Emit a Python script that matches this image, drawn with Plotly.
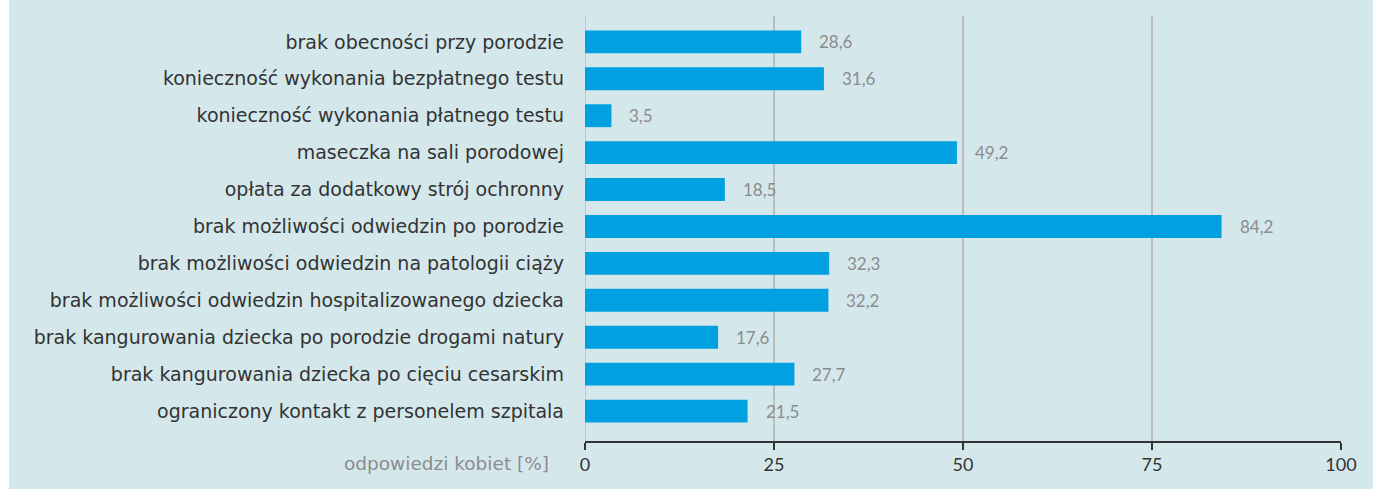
import plotly.graph_objects as go

categories = [
    "brak obecności przy porodzie",
    "konieczność wykonania bezpłatnego testu",
    "konieczność wykonania płatnego testu",
    "maseczka na sali porodowej",
    "opłata za dodatkowy strój ochronny",
    "brak możliwości odwiedzin po porodzie",
    "brak możliwości odwiedzin na patologii ciąży",
    "brak możliwości odwiedzin hospitalizowanego dziecka",
    "brak kangurowania dziecka po porodzie drogami natury",
    "brak kangurowania dziecka po cięciu cesarskim",
    "ograniczony kontakt z personelem szpitala",
]
values = [28.6, 31.6, 3.5, 49.2, 18.5, 84.2, 32.3, 32.2, 17.6, 27.7, 21.5]
tick_vals = [0, 25, 50, 75, 100]
axis_title = "odpowiedzi kobiet [%]"

BG = "#d4e8ec"
BAR = "#00a0e1"
FONT = "Lato"
LABEL_FONT = "DejaVu Sans"

fig = go.Figure()
fig.add_trace(go.Bar(
    x=values, y=categories, orientation="h",
    marker=dict(color=BAR, line=dict(width=0)),
    width=0.62, hoverinfo="skip",
))

for c, v in zip(categories, values):
    fig.add_annotation(
        x=v, y=c, xref="x", yref="y",
        text=f"{v:.1f}".replace(".", ","),
        showarrow=False, xanchor="left", xshift=16,
        font=dict(family=FONT, size=17, color="#8c8c8c"),
    )

fig.add_annotation(
    x=-0.045, y=-0.052, xref="paper", yref="paper",
    text=axis_title, showarrow=False, xanchor="right", yanchor="middle",
    font=dict(family=LABEL_FONT, size=18.5, color="#8c8c8c"),
)

# white strip at left edge
fig.add_shape(type="rect", xref="paper", yref="paper",
              x0=-0.80, x1=-0.762, y0=-0.2, y1=1.1,
              fillcolor="white", line=dict(width=0), layer="below")

fig.update_layout(
    width=1373, height=489,
    margin=dict(l=585, r=32, t=16, b=48),
    paper_bgcolor=BG, plot_bgcolor=BG,
    showlegend=False,
    font=dict(family=FONT, size=17, color="#333333"),
    bargap=0.38,
)
fig.update_xaxes(
    range=[0, 100], tickvals=tick_vals, ticktext=[str(t) for t in tick_vals],
    showgrid=True, gridcolor="#bdbdbd", gridwidth=1.5,
    zeroline=False,
    showline=True, linecolor="#333333", linewidth=1.5,
    ticks="outside", ticklen=7, tickcolor="#333333", tickwidth=1.5,
    tickfont=dict(family=FONT, size=18, color="#333333"),
    fixedrange=True,
)
fig.update_yaxes(
    categoryorder="array", categoryarray=categories,
    range=[10.81, -0.70],
    showgrid=False, zeroline=False, showline=False, ticks="",
    ticklabelstandoff=20,
    tickfont=dict(family=LABEL_FONT, size=19, color="#333333"),
    fixedrange=True,
)
# vertical line at x=0 (grid)
fig.add_shape(type="line", xref="x", yref="paper", x0=0, x1=0, y0=0, y1=1,
              line=dict(color="#bdbdbd", width=1.5), layer="below")

fig.write_html("out.html")
